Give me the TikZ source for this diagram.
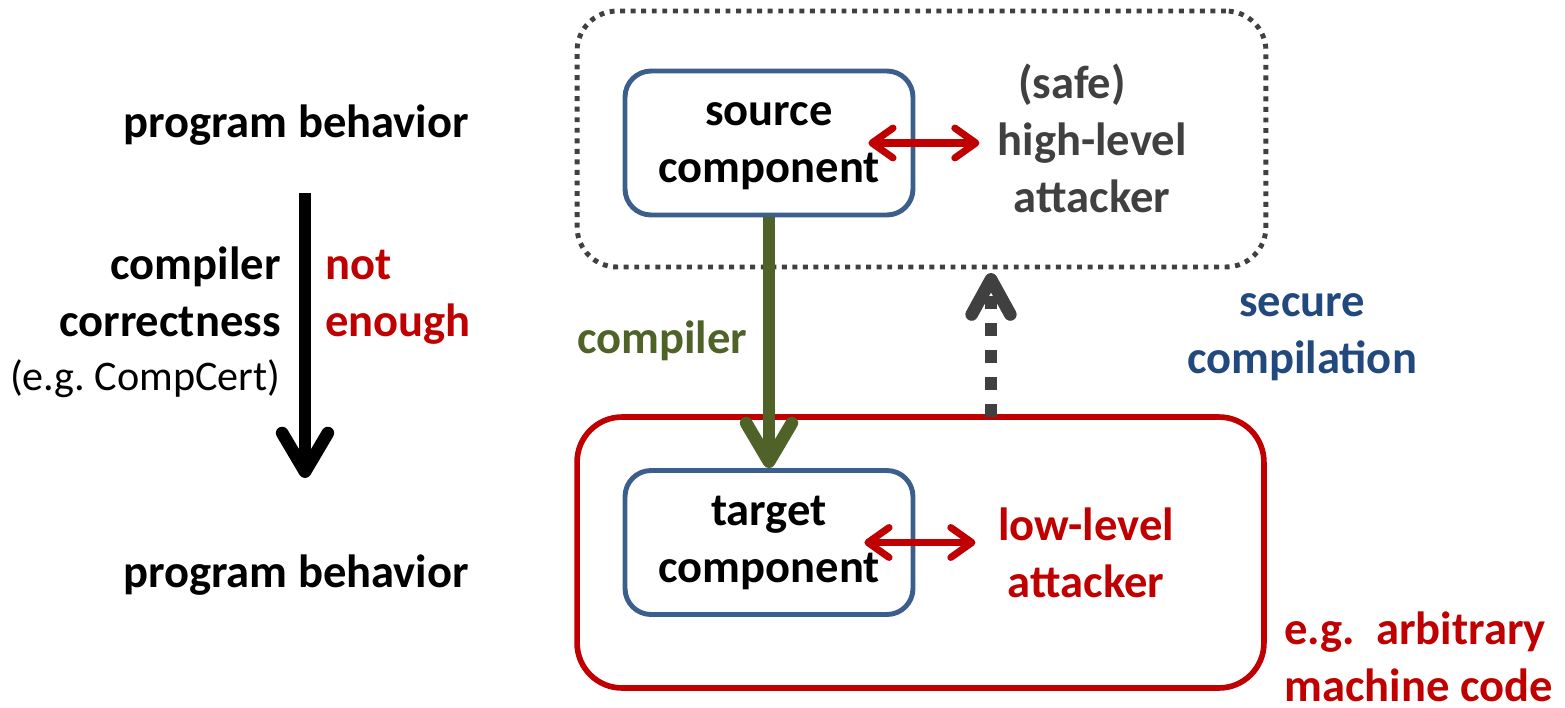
\documentclass[tikz,border=0pt]{standalone}
\usepackage{fontspec}
\setmainfont{Carlito}
\usetikzlibrary{arrows.meta, positioning}
\definecolor{cblue}{HTML}{3B5E8C}
\definecolor{sblue}{HTML}{22497D}
\definecolor{ared}{HTML}{C00000}
\definecolor{agray}{HTML}{404040}
\definecolor{cgreen}{HTML}{4F6228}

\begin{document}
\begin{tikzpicture}[x=0.02cm, y=-0.02cm,
    txt/.style={font=\fontsize{26.5}{32.3}\selectfont\bfseries, inner sep=0pt, align=center},
    compbox/.style={txt, draw=cblue, line width=2.8pt, rounded corners=0.52cm,
        minimum width=5.76cm, minimum height=2.88cm},
    dotbox/.style={draw=agray, line width=2.8pt, dash pattern=on 2.8pt off 3.2pt,
        rounded corners=0.8cm, minimum width=13.78cm, minimum height=5.12cm},
    lowbox/.style={draw=ared, line width=3.2pt, rounded corners=0.9cm,
        minimum width=13.74cm, minimum height=5.42cm},
    bigarrow/.style={line width=7.2pt, -{Straight Barb[length=22pt, width=26pt, round]}},
    talk/.style={draw=ared, line width=4pt,
        {Straight Barb[length=12pt, width=17pt, round]}-{Straight Barb[length=12pt, width=17pt, round]}},
    upattack/.style={draw=agray, line width=7.2pt, dash pattern=on 7.4pt off 8pt,
        -{Straight Barb[length=20pt, width=22pt, round]}}
]
\useasboundingbox (0,0) rectangle (1565,707);

% left: correctness
\node[txt] (behtop) at (296,125) {program behavior};
\node[txt] (behbot) at (296,575) {program behavior};
\coordinate (ctop) at (305,193);
\coordinate (cbot) at (305,478);
\draw[bigarrow] (ctop) -- (cbot);
\node[txt, align=right, anchor=base east] (corr) at (281,336) {compiler\\correctness};
\node[txt, font=\fontsize{24}{29}\selectfont, anchor=base east] (ccert) at (281,390) {(e.g.\ CompCert)};
\node[txt, text=ared, align=left, anchor=base west] (notenough) at (325,336) {not\\enough};

% right: the two levels
\node[dotbox] (hlbox) at (921.5,139) {};
\node[lowbox] (llbox) at (920.5,552.5) {};
\node[compbox] (src) at (769,143) {\strut source\\component\strut};
\node[compbox] (tgt) at (769,542.5) {\strut target\\component\strut};

\node[txt, text=agray, anchor=base] (hla) at (1092,212) {(safe)\hspace*{0.8cm}\\high-level\\attacker};
\node[txt, text=ared, anchor=base] (lla) at (1086,597) {low-level\\attacker};
\draw[talk] ([xshift=-0.94cm]src.east) -- ([xshift=1.28cm]src.east);
\draw[talk] ([xshift=-1.02cm]tgt.east) -- ([xshift=1.2cm]tgt.east);

% compiler
\draw[bigarrow, cgreen] (src.south) -- (tgt.north);
\node[txt, text=cgreen, anchor=base] (comp) at (662,353) {compiler};

% secure compilation
\coordinate (upfoot) at (991,417);
\coordinate (uptip) at (991,273);
\draw[upattack] (upfoot) -- (uptip);
\node[txt, text=sblue, anchor=base] (secc) at (1302,373) {secure\\compilation};
\node[txt, text=ared, align=left, anchor=base west] (mcode) at (1284,701) {e.g.\ \ arbitrary\\machine code};
\end{tikzpicture}
\end{document}
